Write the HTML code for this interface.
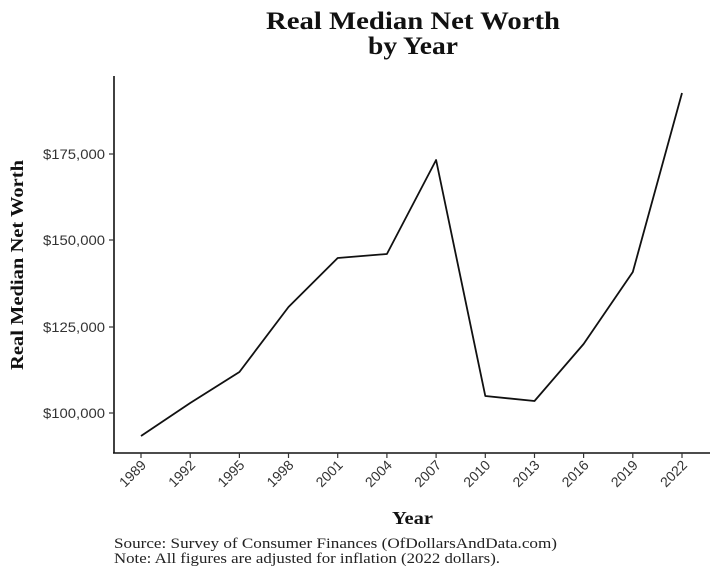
<!DOCTYPE html>
<html><head><meta charset="utf-8"><style>
html,body{margin:0;padding:0;background:#fff;}
svg{display:block;}
.t{font-family:"Liberation Sans",sans-serif;font-size:14px;fill:#333;}
.s{font-family:"Liberation Serif",serif;}
</style></head><body>
<svg width="720" height="576" viewBox="0 0 720 576" xmlns="http://www.w3.org/2000/svg">
<text class="s" x="266" y="29" font-size="25" font-weight="bold" fill="#111" textLength="294" lengthAdjust="spacingAndGlyphs">Real Median Net Worth</text>
<text class="s" x="368" y="54" font-size="25" font-weight="bold" fill="#111" textLength="90" lengthAdjust="spacingAndGlyphs">by Year</text>
<line x1="114" y1="76" x2="114" y2="453" stroke="#111" stroke-width="1.6"/>
<line x1="113" y1="453" x2="710" y2="453" stroke="#111" stroke-width="1.6"/>
<g stroke="#333" stroke-width="1.2">
<line x1="109" y1="154" x2="114" y2="154"/>
<line x1="109" y1="240" x2="114" y2="240"/>
<line x1="109" y1="327" x2="114" y2="327"/>
<line x1="109" y1="413" x2="114" y2="413"/>
</g>
<g class="t" text-anchor="end">
<text x="105" y="159" textLength="62" lengthAdjust="spacingAndGlyphs">$175,000</text>
<text x="105" y="245" textLength="62" lengthAdjust="spacingAndGlyphs">$150,000</text>
<text x="105" y="332" textLength="62" lengthAdjust="spacingAndGlyphs">$125,000</text>
<text x="105" y="418" textLength="62" lengthAdjust="spacingAndGlyphs">$100,000</text>
</g>
<text class="s" transform="translate(23,370) rotate(-90)" font-size="18" font-weight="bold" fill="#111" textLength="210" lengthAdjust="spacingAndGlyphs">Real Median Net Worth</text>
<g stroke="#333" stroke-width="1.2">
<line x1="141" y1="453" x2="141" y2="458"/><line x1="190.2" y1="453" x2="190.2" y2="458"/><line x1="239.4" y1="453" x2="239.4" y2="458"/><line x1="288.5" y1="453" x2="288.5" y2="458"/><line x1="337.7" y1="453" x2="337.7" y2="458"/><line x1="386.9" y1="453" x2="386.9" y2="458"/><line x1="436.1" y1="453" x2="436.1" y2="458"/><line x1="485.3" y1="453" x2="485.3" y2="458"/><line x1="534.5" y1="453" x2="534.5" y2="458"/><line x1="583.6" y1="453" x2="583.6" y2="458"/><line x1="632.8" y1="453" x2="632.8" y2="458"/><line x1="682" y1="453" x2="682" y2="458"/>
</g>
<g class="t" text-anchor="end">
<text transform="translate(147,466) rotate(-45)">1989</text>
<text transform="translate(196.2,466) rotate(-45)">1992</text>
<text transform="translate(245.4,466) rotate(-45)">1995</text>
<text transform="translate(294.5,466) rotate(-45)">1998</text>
<text transform="translate(343.7,466) rotate(-45)">2001</text>
<text transform="translate(392.9,466) rotate(-45)">2004</text>
<text transform="translate(442.1,466) rotate(-45)">2007</text>
<text transform="translate(491.3,466) rotate(-45)">2010</text>
<text transform="translate(540.5,466) rotate(-45)">2013</text>
<text transform="translate(589.6,466) rotate(-45)">2016</text>
<text transform="translate(638.8,466) rotate(-45)">2019</text>
<text transform="translate(688,466) rotate(-45)">2022</text>
</g>
<text class="s" x="392" y="524" font-size="18" font-weight="bold" fill="#111" textLength="41" lengthAdjust="spacingAndGlyphs">Year</text>
<polyline fill="none" stroke="#111" stroke-width="1.8" stroke-linejoin="round" points="141,436 190.2,403 239.4,372 288.5,307 337.7,258 386.9,254 436.1,160 485.3,396 534.5,401 583.6,344 632.8,272 682,93"/>
<text class="s" x="114" y="548" font-size="14.5" fill="#222" textLength="443" lengthAdjust="spacingAndGlyphs">Source:  Survey of Consumer Finances (OfDollarsAndData.com)</text>
<text class="s" x="114" y="563" font-size="14.5" fill="#222" textLength="386" lengthAdjust="spacingAndGlyphs">Note: All figures are adjusted for inflation (2022 dollars).</text>
</svg>
</body></html>
